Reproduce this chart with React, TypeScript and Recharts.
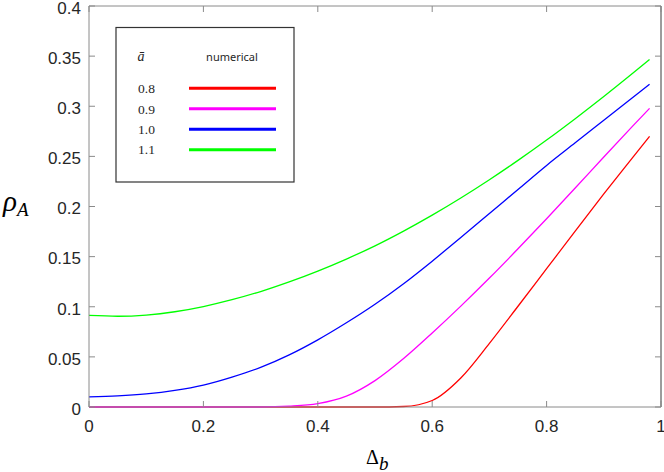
import React from 'react';
import { LineChart, Line, XAxis, YAxis, ReferenceLine } from 'recharts';

// ---- data ----
const deltas = [0, 0.05, 0.1, 0.15, 0.2, 0.25, 0.3, 0.35, 0.4, 0.45, 0.5, 0.55, 0.6, 0.65, 0.7, 0.75, 0.8, 0.85, 0.9, 0.95, 0.98];
const rho08 = [0, 0, 0, 0, 0, 0, 0, 0, 0, 0, 0, 0.0005, 0.0065, 0.029, 0.0635, 0.1005, 0.138, 0.1755, 0.2125, 0.2485, 0.27];
const rho09 = [0, 0, 0, 0, 0, 0, 0, 0.0008, 0.0033, 0.0108, 0.0263, 0.0483, 0.0738, 0.1006, 0.1286, 0.1578, 0.1878, 0.2184, 0.2494, 0.2799, 0.2979];
const rho10 = [0.01, 0.011, 0.013, 0.0165, 0.0218, 0.0298, 0.0395, 0.052, 0.067, 0.084, 0.1025, 0.123, 0.1455, 0.169, 0.193, 0.217, 0.241, 0.2635, 0.286, 0.3085, 0.322];
const rho11 = [0.0913, 0.0905, 0.0917, 0.095, 0.1002, 0.107, 0.1152, 0.1248, 0.1356, 0.1476, 0.1608, 0.1755, 0.1914, 0.2085, 0.2267, 0.246, 0.2663, 0.2876, 0.3097, 0.3326, 0.3466];
const seriesNames = ['0.8', '0.9', '1.0', '1.1'];
const seriesValues = [rho08, rho09, rho10, rho11];
const seriesColors = ['#ff0000', '#ff00ff', '#0000ff', '#00ff00'];
const xTicks = [0, 0.2, 0.4, 0.6, 0.8, 1];
const yTicks = [0, 0.05, 0.1, 0.15, 0.2, 0.25, 0.3, 0.35, 0.4];

const rows = deltas.map((d, i) => {
  const r: any = { delta: d };
  seriesValues.forEach((vals, k) => { r['s' + k] = vals[i]; });
  return r;
});

// ---- layout ----
const W = 664;
const H = 472;
const M_TOP = 6;
const M_RIGHT = 3;
const Y_W = 89;
const X_H = 65;
const PLOT_W = W - Y_W - M_RIGHT;
const PLOT_H = H - M_TOP - X_H;
const TICK = 6;
const AXIS = '#8a8a8a';
const AXIS_DARK = '#3a3a3a';
const TXT = '#262626';
const SANS = '"Liberation Sans", Arial, sans-serif';
const SERIF = '"Liberation Serif", "Times New Roman", serif';

const fmt = (v: number) => String(Number(v.toFixed(2)));

const XTick = (props: any) => {
  const { x, y, payload } = props;
  return (
    <g>
      <line x1={x} x2={x} y1={y} y2={y - TICK} stroke={AXIS} strokeWidth={1} />
      <line x1={x} x2={x} y1={y - PLOT_H} y2={y - PLOT_H + TICK} stroke={AXIS} strokeWidth={1} />
      <text x={x} y={y + 24.5} textAnchor="middle" fill={TXT} fontSize={17} fontFamily={SANS}>
        {fmt(payload.value)}
      </text>
    </g>
  );
};

const YTick = (props: any) => {
  const { x, y, payload } = props;
  return (
    <g>
      <line x1={x} x2={x + TICK} y1={y} y2={y} stroke={AXIS} strokeWidth={1} />
      <line x1={x + PLOT_W - TICK} x2={x + PLOT_W} y1={y} y2={y} stroke={AXIS} strokeWidth={1} />
      <text x={x - 8} y={y + 7.8} textAnchor="end" fill={TXT} fontSize={17} fontFamily={SANS}>
        {fmt(payload.value)}
      </text>
    </g>
  );
};

// legend layout
const LG_X = 116;
const LG_Y = 27.5;
const LG_W = 178;
const LG_H = 154.5;
const LG_ROW0 = 88.3;
const LG_ROW_STEP = 20.45;

export default function App() {
  return (
    <div style={{ position: 'absolute', left: 0, top: 0, width: W, height: H, background: '#fff' }}>
      <LineChart
        width={W}
        height={H}
        data={rows}
        margin={{ top: M_TOP, right: M_RIGHT, bottom: 0, left: 0 }}
      >
        <XAxis
          dataKey="delta"
          type="number"
          domain={[0, 1]}
          ticks={xTicks}
          height={X_H}
          tickSize={0}
          tickMargin={0}
          tickLine={false}
          axisLine={{ stroke: AXIS, strokeWidth: 1 }}
          tick={<XTick />}
          interval={0}
        />
        <YAxis
          type="number"
          domain={[0, 0.4]}
          ticks={yTicks}
          width={Y_W}
          tickSize={0}
          tickMargin={0}
          tickLine={false}
          axisLine={{ stroke: AXIS, strokeWidth: 1 }}
          tick={<YTick />}
          interval={0}
        />
        <ReferenceLine y={0.4} stroke={AXIS} strokeWidth={1} />
        <ReferenceLine x={1} stroke={AXIS_DARK} strokeWidth={1} />
        {seriesNames.map((n, k) => (
          <Line
            key={n}
            dataKey={'s' + k}
            name={n}
            type="monotone"
            stroke={seriesColors[k]}
            strokeWidth={1.3}
            dot={false}
            activeDot={false}
            isAnimationActive={false}
          />
        ))}
      </LineChart>
      <svg
        width={W}
        height={H}
        style={{ position: 'absolute', left: 0, top: 0, pointerEvents: 'none' }}
      >
        {/* y label */}
        <text x={3} y={211} fill="#000" fontFamily={SERIF} fontStyle="italic" fontSize={29}>
          ρ
          <tspan fontSize={19} dy={5}>A</tspan>
        </text>
        {/* x label */}
        <text x={366} y={464} fill="#000" fontFamily={SERIF} fontSize={20}>
          Δ
          <tspan fontSize={19} fontStyle="italic" dy={6}>b</tspan>
        </text>
        {/* legend */}
        <rect x={LG_X} y={LG_Y} width={LG_W} height={LG_H} fill="#fff" stroke="#333" strokeWidth={1.2} />
        <text x={141} y={60.5} textAnchor="middle" fill={TXT} fontFamily={SERIF} fontStyle="italic" fontSize={14}>
          ā
        </text>
        <text x={232} y={60.5} textAnchor="middle" fill={TXT} fontFamily='"Noto Sans", sans-serif' fontSize={11}>
          numerical
        </text>
        {seriesNames.map((n, k) => {
          const cy = LG_ROW0 + k * LG_ROW_STEP;
          return (
            <g key={n}>
              <text x={146.5} y={cy + 4.8} textAnchor="middle" fill={TXT} fontFamily={SERIF} fontSize={13.5}>
                {n}
              </text>
              <line x1={189} x2={276} y1={cy} y2={cy} stroke={seriesColors[k]} strokeWidth={3} />
            </g>
          );
        })}
      </svg>
    </div>
  );
}
